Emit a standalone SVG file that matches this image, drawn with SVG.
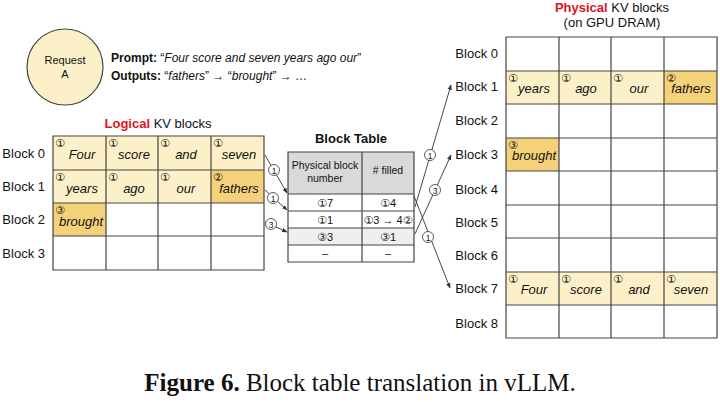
<svg xmlns="http://www.w3.org/2000/svg" width="720" height="402" viewBox="0 0 720 402">
<defs>
<style>
text{font-family:"Liberation Sans",Arial,sans-serif;fill:#111}
.g{stroke:#444;stroke-width:1.2;fill:none}
.l{fill:#fcf0c8}.d{fill:#f5d179}
.w{font-size:13px;font-style:italic;text-anchor:middle}
.n{font-family:"DejaVu Sans",sans-serif;font-size:11px}
.lb{font-size:13px;text-anchor:end}
.c{stroke:#333;stroke-width:0.9;fill:none}
.ci{fill:#fff;stroke:#333;stroke-width:0.8}
</style>
<marker id="a" viewBox="0 0 10 10" refX="9" refY="5" markerWidth="6" markerHeight="6" orient="auto"><path d="M0,1 L10,5 L0,9z" fill="#333"/></marker>
</defs>
<rect width="720" height="402" fill="#fff"/>
<g id="request">
<circle cx="65" cy="67" r="38" fill="#fcf0c8" stroke="#444" stroke-width="1.2"/>
<text x="65" y="64" font-size="11" text-anchor="middle">Request</text>
<text x="65" y="78" font-size="11" text-anchor="middle">A</text>
<text x="111" y="62" font-size="12"><tspan font-weight="bold">Prompt:</tspan> “<tspan font-style="italic">Four score and seven years ago our</tspan>”</text>
<text x="111" y="80" font-size="12"><tspan font-weight="bold">Outputs:</tspan> “<tspan font-style="italic">fathers</tspan>” → “<tspan font-style="italic">brought</tspan>” → …</text>
</g>
<g id="logical">
<text x="158" y="128" font-size="13" text-anchor="middle"><tspan font-weight="bold" style="fill:#e0141e">Logical</tspan> KV blocks</text>
<rect class="l" x="53" y="136" width="211" height="67"/>
<rect class="d" x="211" y="170" width="53" height="33"/>
<rect class="d" x="53" y="203" width="53" height="33"/>
<path class="g" d="M53,136H264V270H53Z M53,170H264 M53,203H264 M53,236H264 M106,136V270 M158,136V270 M211,136V270"/>
<text class="lb" x="45" y="158">Block 0</text><text class="lb" x="45" y="191">Block 1</text><text class="lb" x="45" y="224">Block 2</text><text class="lb" x="45" y="258">Block 3</text>
<text class="w" x="82" y="159">Four</text><text class="w" x="134" y="159">score</text><text class="w" x="186" y="159">and</text><text class="w" x="239" y="159">seven</text>
<text class="w" x="82" y="193">years</text><text class="w" x="134" y="193">ago</text><text class="w" x="186" y="193">our</text><text class="w" x="239" y="193">fathers</text>
<text class="w" x="81" y="226">brought</text>
<text class="n" x="55" y="147">①</text><text class="n" x="108" y="147">①</text><text class="n" x="160" y="147">①</text><text class="n" x="213" y="147">①</text>
<text class="n" x="55" y="181">①</text><text class="n" x="108" y="181">①</text><text class="n" x="160" y="181">①</text><text class="n" x="213" y="181">②</text>
<text class="n" x="55" y="214">③</text>
</g>
<g id="table">
<text x="351" y="143" font-size="13" font-weight="bold" text-anchor="middle">Block Table</text>
<rect x="288" y="152" width="126" height="42" fill="#d9d9d9"/>
<rect x="288" y="228" width="126" height="17" fill="#efefef"/>
<path class="g" d="M288,152H414V262H288Z M288,194H414 M288,211H414 M288,228H414 M288,245H414 M362,152V262"/>
<text x="325" y="169" font-size="10.5" text-anchor="middle">Physical block</text>
<text x="325" y="182" font-size="10.5" text-anchor="middle">number</text>
<text x="388" y="174" font-size="10.5" text-anchor="middle"># filled</text>
<text x="325" y="207" font-size="11" text-anchor="middle"><tspan class="n">①</tspan>7</text>
<text x="325" y="224" font-size="11" text-anchor="middle"><tspan class="n">①</tspan>1</text>
<text x="325" y="241" font-size="11" text-anchor="middle"><tspan class="n">③</tspan>3</text>
<text x="325" y="257" font-size="11" text-anchor="middle">–</text>
<text x="388" y="207" font-size="11" text-anchor="middle"><tspan class="n">①</tspan>4</text>
<text x="388" y="224" font-size="11" text-anchor="middle"><tspan class="n">①</tspan>3 → 4<tspan class="n">②</tspan></text>
<text x="388" y="241" font-size="11" text-anchor="middle"><tspan class="n">③</tspan>1</text>
<text x="388" y="257" font-size="11" text-anchor="middle">–</text>
</g>
<g id="physical">
<text x="612" y="12" font-size="13" text-anchor="middle"><tspan font-weight="bold" style="fill:#e0141e">Physical</tspan> KV blocks</text>
<text x="612" y="27" font-size="13" text-anchor="middle">(on GPU DRAM)</text>
<rect class="l" x="506" y="71" width="158" height="33"/>
<rect class="d" x="664" y="71" width="53" height="33"/>
<rect class="d" x="506" y="138" width="53" height="33"/>
<rect class="l" x="506" y="272" width="211" height="33"/>
<path class="g" d="M506,37H717V338H506Z M506,71H717 M506,104H717 M506,138H717 M506,171H717 M506,205H717 M506,238H717 M506,272H717 M506,305H717 M559,37V338 M611,37V338 M664,37V338"/>
<text class="lb" x="498" y="58">Block 0</text><text class="lb" x="498" y="91">Block 1</text><text class="lb" x="498" y="125">Block 2</text><text class="lb" x="498" y="159">Block 3</text><text class="lb" x="498" y="194">Block 4</text><text class="lb" x="498" y="227">Block 5</text><text class="lb" x="498" y="260">Block 6</text><text class="lb" x="498" y="293">Block 7</text><text class="lb" x="498" y="328">Block 8</text>
<text class="w" x="534" y="93">years</text><text class="w" x="586" y="93">ago</text><text class="w" x="639" y="93">our</text><text class="w" x="691" y="93">fathers</text>
<text class="w" x="534" y="160">brought</text>
<text class="w" x="534" y="294">Four</text><text class="w" x="586" y="294">score</text><text class="w" x="639" y="294">and</text><text class="w" x="691" y="294">seven</text>
<text class="n" x="508" y="82">①</text><text class="n" x="561" y="82">①</text><text class="n" x="613" y="82">①</text><text class="n" x="666" y="82">②</text>
<text class="n" x="508" y="149">③</text>
<text class="n" x="508" y="283">①</text><text class="n" x="561" y="283">①</text><text class="n" x="613" y="283">①</text><text class="n" x="666" y="283">①</text>
</g>
<g id="connectors">
<path class="c" marker-end="url(#a)" d="M265,155L287,193"/>
<path class="c" marker-end="url(#a)" d="M265,190L287,210"/>
<path class="c" marker-end="url(#a)" d="M265,222L287,232"/>
<path class="c" marker-end="url(#a)" d="M415,207L451,85"/>
<path class="c" marker-end="url(#a)" d="M415,234L451,155"/>
<path class="c" marker-end="url(#a)" d="M414,196L450,288"/>
<circle class="ci" cx="274" cy="170" r="5.5"/><circle class="ci" cx="273" cy="198" r="5.5"/><circle class="ci" cx="271" cy="224" r="5.5"/>
<circle class="ci" cx="430" cy="155" r="5.5"/><circle class="ci" cx="435" cy="190" r="5.5"/><circle class="ci" cx="428" cy="237" r="5.5"/>
<text x="274" y="173.5" font-size="8.5" text-anchor="middle">1</text><text x="273" y="201.5" font-size="8.5" text-anchor="middle">1</text><text x="271" y="227.5" font-size="8.5" text-anchor="middle">3</text>
<text x="430" y="158.5" font-size="8.5" text-anchor="middle">1</text><text x="435" y="193.5" font-size="8.5" text-anchor="middle">3</text><text x="428" y="240.5" font-size="8.5" text-anchor="middle">1</text>
</g>
<text x="360" y="391" font-size="25" text-anchor="middle" style="font-family:'Liberation Serif',serif"><tspan font-weight="bold">Figure 6.</tspan> Block table translation in vLLM.</text>
</svg>
